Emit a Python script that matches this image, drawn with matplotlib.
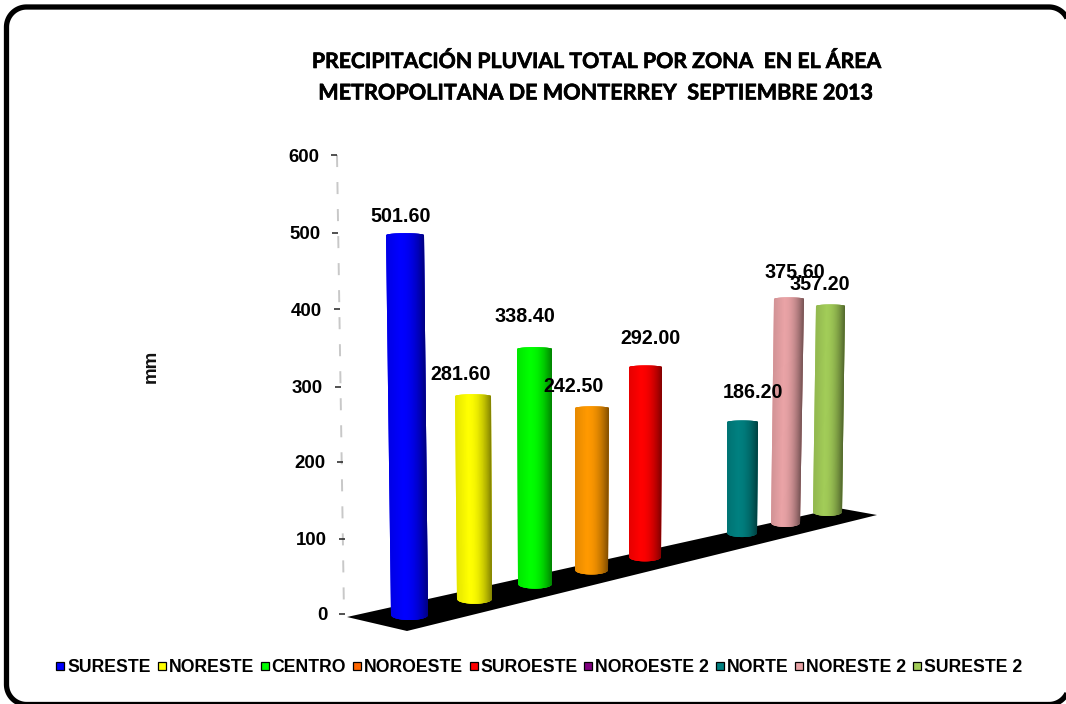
import numpy as np
import matplotlib
matplotlib.use("Agg")
import matplotlib.pyplot as plt
import matplotlib.patheffects as pe
from matplotlib.patches import Polygon
from matplotlib.transforms import ScaledTranslation, Affine2D
from matplotlib.colors import to_rgb

# ---- data ----
zones = ["SURESTE", "NORESTE", "CENTRO", "NOROESTE", "SUROESTE",
         "NOROESTE 2", "NORTE", "NORESTE 2", "SURESTE 2"]
values = [501.60, 281.60, 338.40, 242.50, 292.00, np.nan, 186.20, 375.60, 357.20]
colors = ["#0000FF", "#FFFF00", "#00FF00", "#FF9900", "#FF0000",
          "#800080", "#008080", "#E9A3A6", "#A2CC58"]
legend_colors = ["#0000FF", "#FFFF00", "#00FF00", "#FF6600", "#FF0000",
                 "#800080", "#008080", "#E9A3A6", "#A2CC58"]
y_ticks = [0, 100, 200, 300, 400, 500, 600]
title_lines = ["PRECIPITACIÓN PLUVIAL TOTAL POR ZONA  EN EL ÁREA",
               "METROPOLITANA DE MONTERREY  SEPTIEMBRE 2013"]

# ---- fake-3D layout (pixels) ----
W, H = 1066, 704
base_px = [615, 599, 584, 570, 557, np.nan, 533, 523, 512]     # base line of each cylinder
persp = [0.990, 0.942, 0.908, 0.873, 0.850, np.nan, 0.779, 0.780, 0.754]   # height factor
x_base = [(391, 428), (457, 492), (518, 552), (575, 608), (629, 661), (np.nan, np.nan),
          (727, 757), (771, 800), (813, 842)]
x_top = [(386, 424), (455, 491), (517, 552), (575, 609), (629, 662), (np.nan, np.nan),
         (727, 758), (774, 804), (816, 845)]
label_px = [(400.5, 216), (461, 375), (525, 316), (573, 387), (650, 339), None,
            (753, 392), (795, 272), (820, 285)]
tick_dx = [4, 4, 2, 0, -1, -3, -4]               # axis leans slightly (px)
tick_dy = [0, -1, -1, -2, -1, -1, 0]             # px, positive is up

PX_PER_UNIT = 0.765
ZERO_PX = 614


def px2val(py):
    return (ZERO_PX - py) / PX_PER_UNIT


plt.rcParams["font.family"] = ["Liberation Sans", "DejaVu Sans"]
fig = plt.figure(figsize=(W / 100, H / 100), dpi=100, facecolor="white")
ax = fig.add_axes([0, 0, 1, 1])
ax.set_xlim(0, W)
ax.set_ylim(px2val(H), px2val(0))
ax.patch.set_alpha(0)
for s in ["top", "right", "bottom"]:
    ax.spines[s].set_visible(False)
ax.spines["left"].set_position(("data", 341))
ax.spines["left"].set_visible(False)
ax.set_xticks([])

# y axis with real ticks
ax.set_yticks(y_ticks, [str(t) for t in y_ticks])
ax.tick_params(axis="y", length=4.2, width=1.1, color="#222222", pad=8.6,
               labelsize=13.4, labelcolor="black")
for lab in ax.get_yticklabels():
    lab.set_fontweight("bold")
for tk, dx, dy in zip(ax.yaxis.get_major_ticks(), tick_dx, tick_dy):
    off = ScaledTranslation(dx / 100, dy / 100, fig.dpi_scale_trans)
    tk.tick1line.set_transform(tk.tick1line.get_transform() + off)
    tk.label1.set_transform(tk.label1.get_transform() + off)

# dashed leaning axis line
ax.plot([337, 344], [600, 0], color="#C8C8C8", lw=1.4, ls=(0, (6.2, 7.7)), zorder=1)

# black floor
floor_px = [(347, 617), (407, 631), (877, 515), (838, 508)]
ax.add_patch(Polygon([(x, px2val(y)) for x, y in floor_px], closed=True,
                     fc="black", ec="none", zorder=2))


def shade(rgb, t):
    """t in 0..1 across the cylinder: light band at 0.35, dark at right edge."""
    rgb = np.array(rgb)
    if t < 0.35:
        f = 0.90 + 0.10 * t / 0.35
    else:
        f = 1.0 - 0.50 * ((t - 0.35) / 0.65) ** 2.0
    return tuple(rgb * f)


# cylinders
N = 30
for i, v in enumerate(values):
    if np.isnan(v):
        continue
    bottom = px2val(base_px[i])
    top = bottom + v * persp[i]
    wb = x_base[i][1] - x_base[i][0]
    b_cap = wb * 0.135 / PX_PER_UNIT
    t_cap = wb * 0.05 / PX_PER_UNIT
    rgb = to_rgb(colors[i])
    zi = 3 + i * 0.1

    def outline(t):
        arc = np.sqrt(np.clip(1 - (2 * t - 1) ** 2, 0, 1))
        xb = x_base[i][0] + t * (x_base[i][1] - x_base[i][0])
        xt = x_top[i][0] + t * (x_top[i][1] - x_top[i][0])
        return xb, bottom - b_cap * arc, xt, top + t_cap * arc

    # silhouette first, so the floor never shows through the seams
    tt = np.linspace(0, 1, 41)
    xb, yb, xt, yt = outline(tt)
    ax.add_patch(Polygon(list(zip(xb, yb)) + list(zip(xt[::-1], yt[::-1])), closed=True,
                         fc=shade(rgb, 0.5), ec="none", zorder=zi))
    ts = np.linspace(0, 1, N + 1)
    for j in range(N):
        a, b = ts[j], ts[min(j + 2, N)]          # overlap into the next strip
        sub = np.linspace(a, b, 5)
        xb, yb, xt, yt = outline(sub)
        ax.add_patch(Polygon(list(zip(xb, yb)) + list(zip(xt[::-1], yt[::-1])), closed=True,
                             fc=shade(rgb, (ts[j] + ts[j + 1]) / 2), ec="none",
                             zorder=zi + (j + 1) * 0.001))
    lx, ly = label_px[i]
    ax.text(lx, px2val(ly), f"{v:.2f}", ha="center", va="center", fontsize=14.2,
            fontweight="bold", color="black", zorder=10)

# titles and axis title
bold = [pe.withStroke(linewidth=0.45, foreground="black")]
fig.text(597 / W, 1 - 62 / H, title_lines[0], ha="center", va="center",
         fontfamily="Lato", fontweight="bold", fontsize=15.3, color="black", path_effects=bold)
fig.text(596.5 / W, 1 - 93 / H, title_lines[1], ha="center", va="center",
         fontfamily="Lato", fontweight="bold", fontsize=15.55, color="black", path_effects=bold)
fig.text(151.5 / W, 1 - 366 / H, "mm", rotation=90, ha="center", va="center",
         fontsize=13.5, fontweight="bold", color="#111111")

# legend
handles = [plt.Line2D([], [], ls="none", marker="s", ms=6.2, mfc=c, mec="black", mew=0.9)
           for c in legend_colors]
leg = fig.legend(handles, zones, loc="center", bbox_to_anchor=(537 / W, 1 - 668 / H),
                 ncols=9, frameon=False, handletextpad=-0.1, columnspacing=0.1,
                 handlelength=1.0, borderaxespad=0, borderpad=0,
                 prop={"family": "Liberation Sans", "weight": "bold", "size": 12.7})


# rounded frame (right and bottom sides run off the picture), drawn in pixels
def rounded_outline(x0, y0, x1, y1, r, n=24):
    pts = []
    for cx, cy, start in [(x1 - r, y0 + r, -90), (x1 - r, y1 - r, 0),
                          (x0 + r, y1 - r, 90), (x0 + r, y0 + r, 180)]:
        ang = np.radians(np.linspace(start, start + 90, n))
        pts += list(zip(cx + r * np.cos(ang), cy + r * np.sin(ang)))
    return pts


fig.add_artist(Polygon(rounded_outline(6.5, -0.5, 1069, 697, 20), closed=True,
                       transform=Affine2D(), fill=False, ec="black", lw=3.8, zorder=20))

fig.savefig("out.png", dpi=100, facecolor="white")
